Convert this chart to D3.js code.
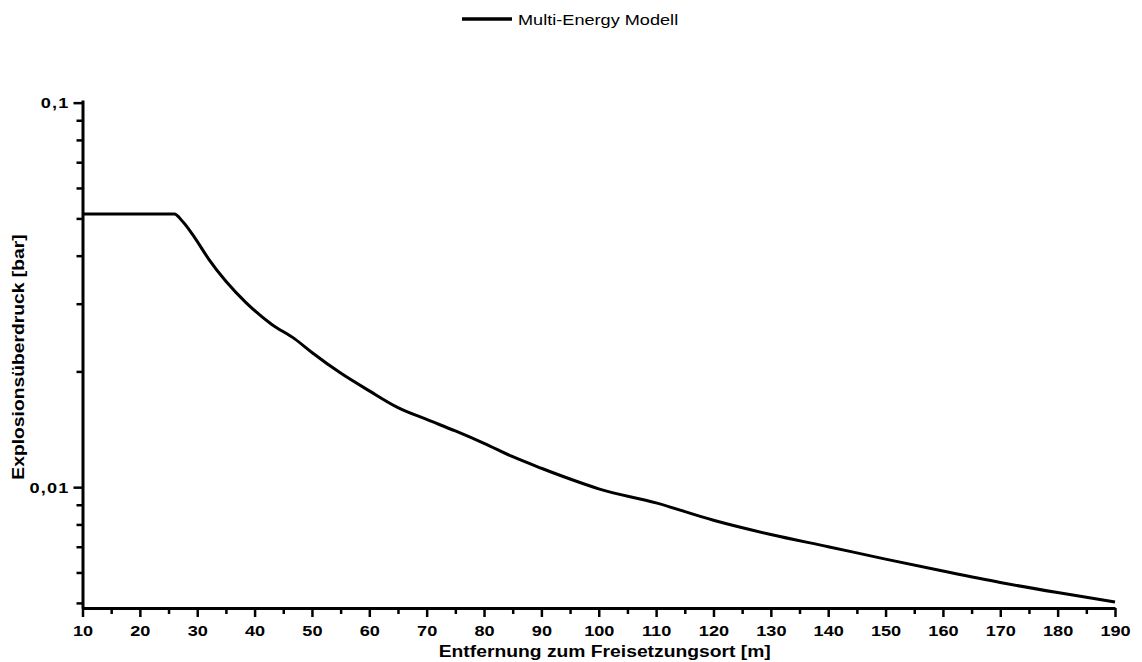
<!DOCTYPE html>
<html lang="de">
<head>
<meta charset="UTF-8">
<title>Multi-Energy Modell</title>
<script src="https://d3js.org/d3.v7.min.js"></script>
<style>
  body { margin: 0; background: #fff; }
  text { font-family: "Liberation Sans", Arial, sans-serif; fill: #000; }
</style>
</head>
<body>
<div id="chart"></div>
<script>
// Entfernung [m] und Explosionsüberdruck [bar]
var distance = [10, 26, 27.5, 29.5, 32, 35, 38.5, 43, 47, 50, 55, 60, 65, 70, 75, 80, 85, 90, 95, 100, 110, 120, 130, 140, 150, 160, 170, 180, 190];
var pressure = [0.0513, 0.0513, 0.0490, 0.0447, 0.0392, 0.0343, 0.0302, 0.0265, 0.0243, 0.0224, 0.0198, 0.0178, 0.0161, 0.0150, 0.0140, 0.0130, 0.0120, 0.0112, 0.0105, 0.0099, 0.0091, 0.0082, 0.00753, 0.0070, 0.0065, 0.00605, 0.00565, 0.00532, 0.00503];

var xMajorTicks = [10, 20, 30, 40, 50, 60, 70, 80, 90, 100, 110, 120, 130, 140, 150, 160, 170, 180, 190];
var xMinorTicks = [15, 25, 35, 45, 55, 65, 75, 85, 95, 105, 115, 125, 135, 145, 155, 165, 175, 185];
var yMajorTicks = [0.01, 0.1];
var yTickLabels = ["0,01", "0,1"];
var yMinorTicks = [0.005, 0.006, 0.007, 0.008, 0.009, 0.02, 0.03, 0.04, 0.05, 0.06, 0.07, 0.08, 0.09];

var seriesName = "Multi-Energy Modell";
var xTitle = "Entfernung zum Freisetzungsort [m]";
var yTitle = "Explosionsüberdruck [bar]";

var width = 1142, height = 662;
var margin = { top: 100, right: 27, bottom: 54, left: 82.5 };
var stretch = 1.17; // Schrift im Original ist etwas breit gezogen

var svg = d3.select("#chart").append("svg")
    .attr("width", width)
    .attr("height", height);

var x = d3.scaleLinear()
    .domain([10, 190])
    .range([margin.left, width - margin.right]);

var y = d3.scaleLog()
    .domain([0.00485, 0.1016])
    .range([height - margin.bottom, margin.top]);

var data = distance.map(function(d, i) { return { x: d, y: pressure[i] }; });

// Minor-Ticks x
svg.append("g")
    .attr("transform", "translate(0," + (height - margin.bottom) + ")")
    .call(d3.axisBottom(x).tickValues(xMinorTicks).tickSize(6).tickFormat(""))
    .call(function(g) { g.select(".domain").remove(); })
    .selectAll("line").attr("stroke-width", 2.5);

// Major-Ticks x
var xAxis = svg.append("g")
    .attr("transform", "translate(0," + (height - margin.bottom) + ")")
    .call(d3.axisBottom(x).tickValues(xMajorTicks).tickSize(9).tickSizeOuter(0).tickPadding(8).tickFormat(d3.format("d")));
xAxis.select(".domain").attr("stroke-width", 3);
xAxis.selectAll(".tick line").attr("stroke-width", 2.5);
xAxis.selectAll(".tick text")
    .attr("font-size", 15.5)
    .attr("font-weight", "bold")
    .attr("transform", "scale(" + stretch + ",1)");

// Minor-Ticks y
svg.append("g")
    .attr("transform", "translate(" + margin.left + ",0)")
    .call(d3.axisLeft(y).tickValues(yMinorTicks).tickSize(6).tickFormat(""))
    .call(function(g) { g.select(".domain").remove(); })
    .selectAll("line").attr("stroke-width", 2.5);

// Major-Ticks y
var yAxis = svg.append("g")
    .attr("transform", "translate(" + margin.left + ",0)")
    .call(d3.axisLeft(y).tickValues(yMajorTicks).tickSize(9).tickSizeOuter(0)
        .tickFormat(function(d, i) { return yTickLabels[i]; }));
yAxis.select(".domain").attr("stroke-width", 3);
yAxis.selectAll(".tick line").attr("stroke-width", 2.5);
yAxis.selectAll(".tick text")
    .attr("font-size", 15.5)
    .attr("font-weight", "bold")
    .attr("letter-spacing", 1)
    .attr("x", -13 / stretch)
    .attr("transform", "scale(" + stretch + ",1)");

// Kurve
svg.append("path")
    .datum(data)
    .attr("fill", "none")
    .attr("stroke", "#000")
    .attr("stroke-width", 3)
    .attr("stroke-linejoin", "round")
    .attr("d", d3.line()
        .curve(d3.curveMonotoneX)
        .x(function(d) { return x(d.x); })
        .y(function(d) { return y(d.y); }));

// Achsentitel
svg.append("text")
    .attr("transform", "translate(" + ((margin.left + width - margin.right) / 2 + 6) + "," + 657 + ") scale(" + stretch + ",1)")
    .attr("text-anchor", "middle")
    .attr("font-size", 16.5)
    .attr("font-weight", "bold")
    .text(xTitle);

svg.append("text")
    .attr("transform", "translate(24," + 357 + ") rotate(-90) scale(" + stretch + ",1)")
    .attr("text-anchor", "middle")
    .attr("font-size", 16.5)
    .attr("font-weight", "bold")
    .text(yTitle);

// Legende
var legend = svg.append("g").attr("transform", "translate(462,19)");
legend.append("line")
    .attr("x1", 0).attr("x2", 50)
    .attr("y1", 0).attr("y2", 0)
    .attr("stroke", "#000")
    .attr("stroke-width", 3.5);
legend.append("text")
    .attr("transform", "translate(56,5.5) scale(" + stretch + ",1)")
    .attr("font-size", 15.5)
    .text(seriesName);
</script>
</body>
</html>
